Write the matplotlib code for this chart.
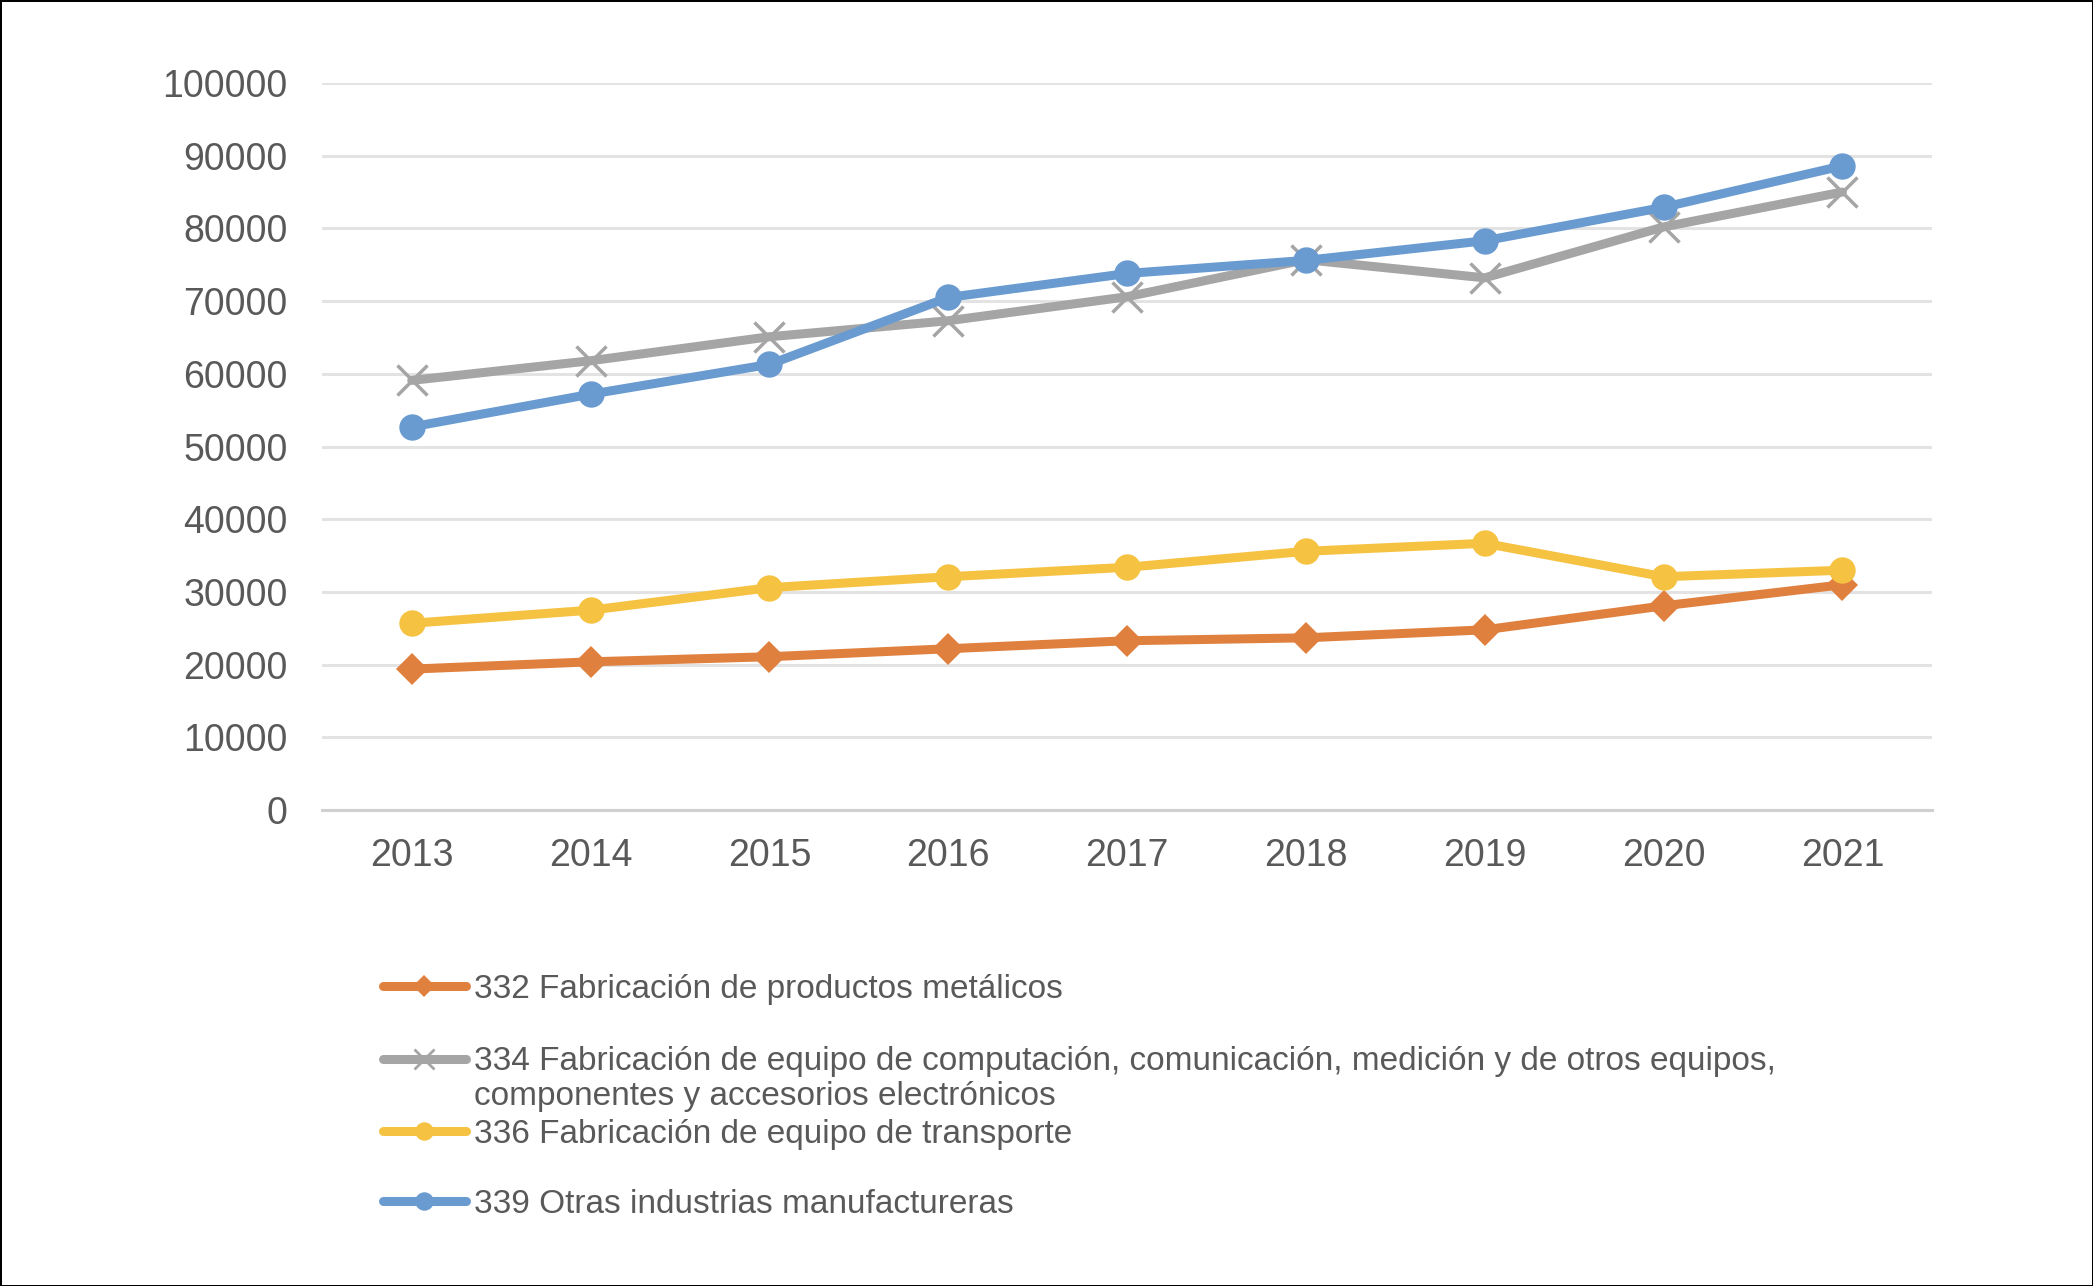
import matplotlib.pyplot as plt
from matplotlib.lines import Line2D

plt.rcParams['font.family'] = ['Liberation Sans', 'DejaVu Sans']

# Datos
anios = ["2013", "2014", "2015", "2016", "2017", "2018", "2019", "2020", "2021"]
s332 = [19400, 20400, 21100, 22200, 23300, 23700, 24800, 28100, 31000]
s334 = [59100, 61800, 65100, 67300, 70600, 75700, 73200, 80200, 85000]
s336 = [25700, 27500, 30600, 32100, 33400, 35600, 36700, 32100, 33000]
s339 = [52700, 57200, 61300, 70500, 73800, 75600, 78300, 82900, 88600]

etiquetas = [
    "332 Fabricación de productos metálicos",
    "334 Fabricación de equipo de computación, comunicación, medición y de otros equipos,\ncomponentes y accesorios electrónicos",
    "336 Fabricación de equipo de transporte",
    "339 Otras industrias manufactureras",
]
yticks = list(range(0, 100001, 10000))

# estilos de cada serie: color, marcador, tamaño
estilos = [
    ("#E0803F", "D", 16),
    ("#A5A5A5", "x", 21),
    ("#F5C242", "o", 19),
    ("#6A9BD0", "o", 19),
]
series = [s332, s334, s336, s339]

fig = plt.figure(figsize=(20.93, 12.86), dpi=100, edgecolor="black", linewidth=2)
ax = fig.add_axes([0.154, 0.370, 0.769, 0.5655])

x = range(len(anios))
for datos, (color, mk, ms) in zip(series, estilos):
    ax.plot(x, datos, color=color, lw=6.5, marker=mk, markersize=ms,
            markeredgewidth=2.5 if mk == "x" else 0, markeredgecolor=color,
            solid_capstyle="round")

ax.set_xlim(-0.5, len(anios) - 0.5)
ax.set_ylim(0, 100000)
ax.set_xticks(list(x))
ax.set_xticklabels(anios)
ax.set_yticks(yticks)
ax.set_yticklabels([str(v) for v in yticks])
ax.tick_params(length=0, labelsize=27, colors="#595959")
ax.tick_params(axis="y", pad=25)
ax.tick_params(axis="x", pad=20)
ax.grid(axis="y", color="#E3E3E3", lw=2.2)
ax.set_axisbelow(True)
for lado in ["top", "right", "left"]:
    ax.spines[lado].set_visible(False)
ax.spines["bottom"].set_color("#D0D0D0")
ax.spines["bottom"].set_linewidth(2.2)

# leyenda al estilo Excel (la marca alineada con la primera línea)
ys = [0.2333, 0.1765, 0.1205, 0.0661]
for yy, lab, (color, mk, ms) in zip(ys, etiquetas, estilos):
    fig.add_artist(Line2D([0.183, 0.2225], [yy, yy], transform=fig.transFigure,
                          color=color, lw=6.5, solid_capstyle="round"))
    fig.add_artist(Line2D([0.2028], [yy], transform=fig.transFigure, color=color,
                          marker=mk, markersize=ms * 0.7,
                          markeredgewidth=2 if mk == "x" else 0, markeredgecolor=color))
    if "\n" in lab:
        fig.text(0.2265, yy + 0.0105, lab, fontsize=24, color="#595959",
                 va="top", ha="left", linespacing=1.2)
    else:
        fig.text(0.2265, yy - 0.0025, lab, fontsize=24, color="#595959",
                 va="center", ha="left")

fig.savefig("out.png", dpi=100)
